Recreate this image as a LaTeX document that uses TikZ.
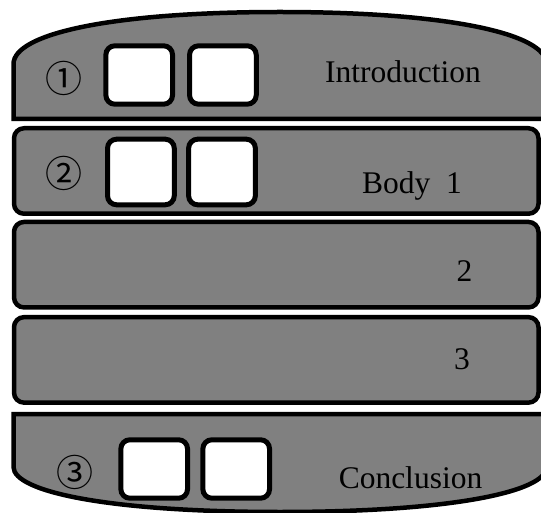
\documentclass[tikz,border=0pt]{standalone}
\usepackage{fontspec}
\setmainfont{Liberation Serif}
\newfontfamily\circfont{Noto Sans CJK SC}
\begin{document}
\begin{tikzpicture}[x=1pt,y=-1pt,
  band/.style={draw=black, fill=gray, line width=4.5pt, line join=miter},
  bodybox/.style={draw=black, fill=gray, line width=4.5pt, rectangle, rounded corners=10pt,
    minimum width=524.5pt, minimum height=85.5pt, inner sep=0pt},
  slot/.style={draw=black, fill=white, line width=5pt, rectangle, rounded corners=9pt,
    minimum width=66.7pt, minimum height=58.4pt, inner sep=0pt},
  txt/.style={font=\fontsize{31.5}{36}\selectfont, inner sep=0pt, anchor=base},
  circnum/.style={font=\circfont\fontsize{37}{40}\selectfont, inner sep=0pt}]
\useasboundingbox (0,0) rectangle (541,513);
\clip (0,0) rectangle (541,513);
% top band
\draw[band] (13.5,119) -- (13.5,64) .. controls (13.5,34) and (110,12) .. (280,12)
  .. controls (450,12) and (546.5,34) .. (546.5,64) -- (546.5,119) -- cycle;
% body boxes
\node[bodybox] (b1) at (276.25,171) {};
\node[bodybox] (b2) at (276.25,264.7) {};
\node[bodybox] (b3) at (276.25,359.9) {};
% bottom band
\draw[band] (13.5,414) -- (546.5,414) -- (546.5,467) .. controls (546.5,492) and (450,512) .. (280,512)
  .. controls (110,512) and (13.5,492) .. (13.5,467) -- cycle;
% slots
\node[slot] (s1a) at (139.2,75) {};
\node[slot] (s1b) at (222.9,75) {};
\node[slot, minimum height=65.6pt] (s2a) at (140.9,172) {};
\node[slot, minimum height=65.6pt] (s2b) at (222,172) {};
\node[slot] (s3a) at (154.2,469) {};
\node[slot] (s3b) at (236.2,469) {};
% circled numbers
\node[circnum] (c1) at (64,78) {①};
\node[circnum] (c2) at (64,173) {②};
\node[circnum] (c3) at (75,472) {③};
% texts
\node[txt] (intro) at (403,83) {Introduction};
\node[txt] (body1) at (412,194) {Body\ \ 1};
\node[txt] (two) at (464.5,282) {2};
\node[txt] (three) at (462,369) {3};
\node[txt] (concl) at (410.5,488) {Conclusion};
\end{tikzpicture}
\end{document}
